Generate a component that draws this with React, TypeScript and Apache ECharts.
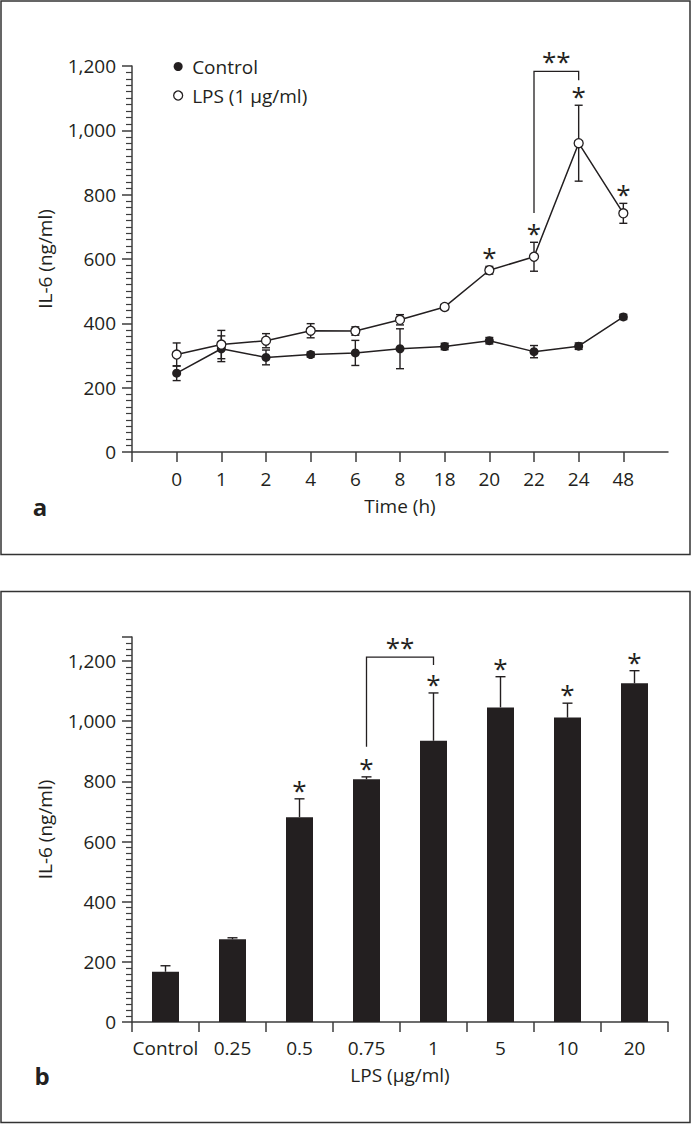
import React, { useEffect, useRef } from 'react';
import * as echarts from 'echarts';

// Panel a: time course
const timeLabels = ['0', '1', '2', '4', '6', '8', '18', '20', '22', '24', '48'];
const controlMean = [245, 321, 294, 303, 308, 321, 328, 346, 312, 329, 420];
const controlSd = [23, 40, 23, 8, 39, 62, 10, 10, 19, 10, 8];
const lpsMean = [303, 334, 346, 377, 376, 411, 451, 565, 607, 960, 742];
const lpsSd = [36, 44, 22, 22, 13, 16, 8, 12, 45, 118, 31];
const lpsStarIdx = [7, 8, 9, 10];
// [x1, x2, top, leftBottom, rightBottom]
const bracketA = [8, 9, 1183, 743, 1156];

// Panel b: dose response
const doseLabels = ['Control', '0.25', '0.5', '0.75', '1', '5', '10', '20'];
const doseMean = [167, 275, 681, 807, 935, 1046, 1012, 1126];
const doseSd = [20, 5, 61, 8, 159, 102, 48, 42];
const doseStarIdx = [2, 3, 4, 5, 6, 7];
const bracketB = [3, 4, 1213, 915, 1187];

const INK = '#231f20';
const AXIS = '#3c3c3c';
const FONT = 'Open Sans';
const FS = 19;

function errRender(capW: number, upperOnly: boolean) {
  return (params: any, api: any) => {
    const x = api.value(0);
    const lo = api.value(1);
    const hi = api.value(2);
    const p1 = api.coord([x, lo]);
    const p2 = api.coord([x, hi]);
    const st = { stroke: INK, lineWidth: 1.4 };
    const children: any[] = [
      { type: 'line', shape: { x1: p1[0], y1: p1[1], x2: p2[0], y2: p2[1] }, style: st },
      { type: 'line', shape: { x1: p2[0] - capW, y1: p2[1], x2: p2[0] + capW, y2: p2[1] }, style: st },
    ];
    if (!upperOnly) {
      children.push({ type: 'line', shape: { x1: p1[0] - capW, y1: p1[1], x2: p1[0] + capW, y2: p1[1] }, style: st });
    }
    return { type: 'group', children };
  };
}

function starRender(params: any, api: any) {
  const p = api.coord([api.value(0), api.value(1)]);
  return {
    type: 'text',
    x: p[0],
    y: p[1] - 9,
    style: { text: '*', fill: INK, fontSize: 26, fontFamily: FONT, align: 'center', verticalAlign: 'middle' },
  };
}

function bracketRender(params: any, api: any) {
  const x1 = api.value(0);
  const x2 = api.value(1);
  const top = api.value(2);
  const yl = api.value(3);
  const yr = api.value(4);
  const a = api.coord([x1, yl]);
  const b = api.coord([x1, top]);
  const c = api.coord([x2, top]);
  const d = api.coord([x2, yr]);
  return {
    type: 'group',
    children: [
      { type: 'polyline', shape: { points: [a, b, c, d] }, style: { stroke: INK, lineWidth: 1.3, fill: 'none' } },
      {
        type: 'text',
        x: (b[0] + c[0]) / 2,
        y: b[1] - 10,
        style: { text: '**', fill: INK, fontSize: 26, fontFamily: FONT, align: 'center', verticalAlign: 'middle' },
      },
    ],
  };
}

export default function App() {
  const ref = useRef<HTMLDivElement>(null);
  useEffect(() => {
    if (!ref.current) return;
    const chart = echarts.init(ref.current, undefined, { renderer: 'svg' });
    const axisLine = { show: true, onZero: false, lineStyle: { color: AXIS, width: 1.5 } };
    const labelStyle = { color: INK, fontFamily: FONT, fontSize: FS };
    const option: any = {
      animation: false,
      textStyle: { fontFamily: FONT },
      grid: [
        { left: 132, top: 66, width: 536, height: 386 },
        { left: 132, top: 637, width: 536, height: 385 },
      ],
      legend: {
        orient: 'vertical',
        left: 168,
        top: 52,
        icon: 'circle',
        itemWidth: 18,
        itemHeight: 9,
        itemGap: 10,
        textStyle: { color: INK, fontFamily: FONT, fontSize: FS },
        data: [
          { name: 'Control', itemStyle: { color: INK } },
          { name: 'LPS (1 μg/ml)', itemStyle: { color: '#fff', borderColor: INK, borderWidth: 1.3 } },
        ],
      },
      xAxis: [
        {
          type: 'value',
          gridIndex: 0,
          min: -1,
          max: 11,
          interval: 1,
          splitLine: { show: false },
          axisLine,
          axisTick: { show: true, length: 10, lineStyle: { color: AXIS, width: 1.5 }, customValues: [-1, 0, 1, 2, 3, 4, 5, 6, 7, 8, 9, 10] },
          axisLabel: {
            ...labelStyle,
            margin: 17,
            formatter: (v: number) => (v >= 0 && v < timeLabels.length ? timeLabels[v] : ''),
          },
          name: 'Time (h)',
          nameLocation: 'middle',
          nameGap: 44,
          nameTextStyle: labelStyle,
        },
        {
          type: 'category',
          gridIndex: 1,
          data: doseLabels,
          boundaryGap: true,
          axisLine,
          axisTick: { show: true, length: 10, interval: 0, lineStyle: { color: AXIS, width: 1.5 } },
          axisLabel: { ...labelStyle, margin: 16, interval: 0 },
          name: 'LPS (μg/ml)',
          nameLocation: 'middle',
          nameGap: 43,
          nameTextStyle: labelStyle,
        },
      ],
      yAxis: [
        {
          type: 'value',
          gridIndex: 0,
          min: 0,
          max: 1200,
          interval: 200,
          splitLine: { show: false },
          axisLine,
          axisTick: { show: true, length: 10, lineStyle: { color: AXIS, width: 1.5 } },
          minorTick: { show: true, splitNumber: 10, length: 6, lineStyle: { color: AXIS, width: 1.2 } },
          axisLabel: { ...labelStyle, margin: 16, formatter: (v: number) => v.toLocaleString('en-US') },
          name: 'IL-6 (ng/ml)',
          nameLocation: 'middle',
          nameGap: 78,
          nameTextStyle: labelStyle,
        },
        {
          type: 'value',
          gridIndex: 1,
          min: 0,
          max: 1280,
          interval: 200,
          splitLine: { show: false },
          axisLine,
          axisTick: { show: true, length: 10, lineStyle: { color: AXIS, width: 1.5 } },
          minorTick: { show: true, splitNumber: 10, length: 6, lineStyle: { color: AXIS, width: 1.2 } },
          axisLabel: {
            ...labelStyle,
            margin: 16,
            formatter: (v: number) => (v > 1200 ? '' : v.toLocaleString('en-US')),
          },
          name: 'IL-6 (ng/ml)',
          nameLocation: 'middle',
          nameGap: 78,
          nameTextStyle: labelStyle,
        },
      ],
      graphic: [
        { type: 'rect', shape: { x: 1, y: 1, width: 689, height: 553.5 }, style: { fill: 'none', stroke: '#333', lineWidth: 1.5 } },
        { type: 'rect', shape: { x: 1, y: 591.5, width: 689, height: 531 }, style: { fill: 'none', stroke: '#333', lineWidth: 1.5 } },
        { type: 'text', x: 40, y: 506, style: { text: 'a', fill: INK, fontFamily: FONT, fontSize: 24, fontWeight: 'bold', align: 'center', verticalAlign: 'middle' } },
        { type: 'text', x: 42, y: 1075, style: { text: 'b', fill: INK, fontFamily: FONT, fontSize: 24, fontWeight: 'bold', align: 'center', verticalAlign: 'middle' } },
      ],
      series: [
        {
          type: 'custom',
          name: 'ctrlErr',
          xAxisIndex: 0,
          yAxisIndex: 0,
          z: 1,
          renderItem: errRender(4, false),
          data: controlMean.map((m, i) => [i, m - controlSd[i], m + controlSd[i]]),
        },
        {
          type: 'custom',
          name: 'lpsErr',
          xAxisIndex: 0,
          yAxisIndex: 0,
          z: 1,
          renderItem: errRender(4, false),
          data: lpsMean.map((m, i) => [i, m - lpsSd[i], m + lpsSd[i]]),
        },
        {
          type: 'line',
          name: 'Control',
          xAxisIndex: 0,
          yAxisIndex: 0,
          z: 3,
          symbol: 'circle',
          symbolSize: 9,
          lineStyle: { color: INK, width: 1.5 },
          itemStyle: { color: INK },
          data: controlMean.map((v, i) => [i, v]),
        },
        {
          type: 'line',
          name: 'LPS (1 μg/ml)',
          xAxisIndex: 0,
          yAxisIndex: 0,
          z: 4,
          symbol: 'circle',
          symbolSize: 9,
          lineStyle: { color: INK, width: 1.5 },
          itemStyle: { color: '#fff', borderColor: INK, borderWidth: 1.3 },
          data: lpsMean.map((v, i) => [i, v]),
        },
        {
          type: 'custom',
          name: 'starsA',
          xAxisIndex: 0,
          yAxisIndex: 0,
          z: 5,
          renderItem: starRender,
          data: lpsStarIdx.map((i) => [i, lpsMean[i] + lpsSd[i]]),
        },
        {
          type: 'custom',
          name: 'bracketA',
          xAxisIndex: 0,
          yAxisIndex: 0,
          z: 5,
          renderItem: bracketRender,
          data: [bracketA],
        },
        {
          type: 'bar',
          name: 'dose',
          xAxisIndex: 1,
          yAxisIndex: 1,
          barWidth: 27,
          itemStyle: { color: INK },
          z: 2,
          data: doseMean,
        },
        {
          type: 'custom',
          name: 'doseErr',
          xAxisIndex: 1,
          yAxisIndex: 1,
          z: 3,
          renderItem: errRender(5, true),
          data: doseMean.map((m, i) => [i, m, m + doseSd[i]]),
        },
        {
          type: 'custom',
          name: 'starsB',
          xAxisIndex: 1,
          yAxisIndex: 1,
          z: 5,
          renderItem: starRender,
          data: doseStarIdx.map((i) => [i, doseMean[i] + doseSd[i]]),
        },
        {
          type: 'custom',
          name: 'bracketB',
          xAxisIndex: 1,
          yAxisIndex: 1,
          z: 5,
          renderItem: bracketRender,
          data: [bracketB],
        },
      ],
    };
    chart.setOption(option);
    return () => chart.dispose();
  }, []);
  return (
    <div
      ref={ref}
      style={{ position: 'absolute', left: 0, top: 0, width: 692, height: 1124, background: '#fff' }}
    />
  );
}
